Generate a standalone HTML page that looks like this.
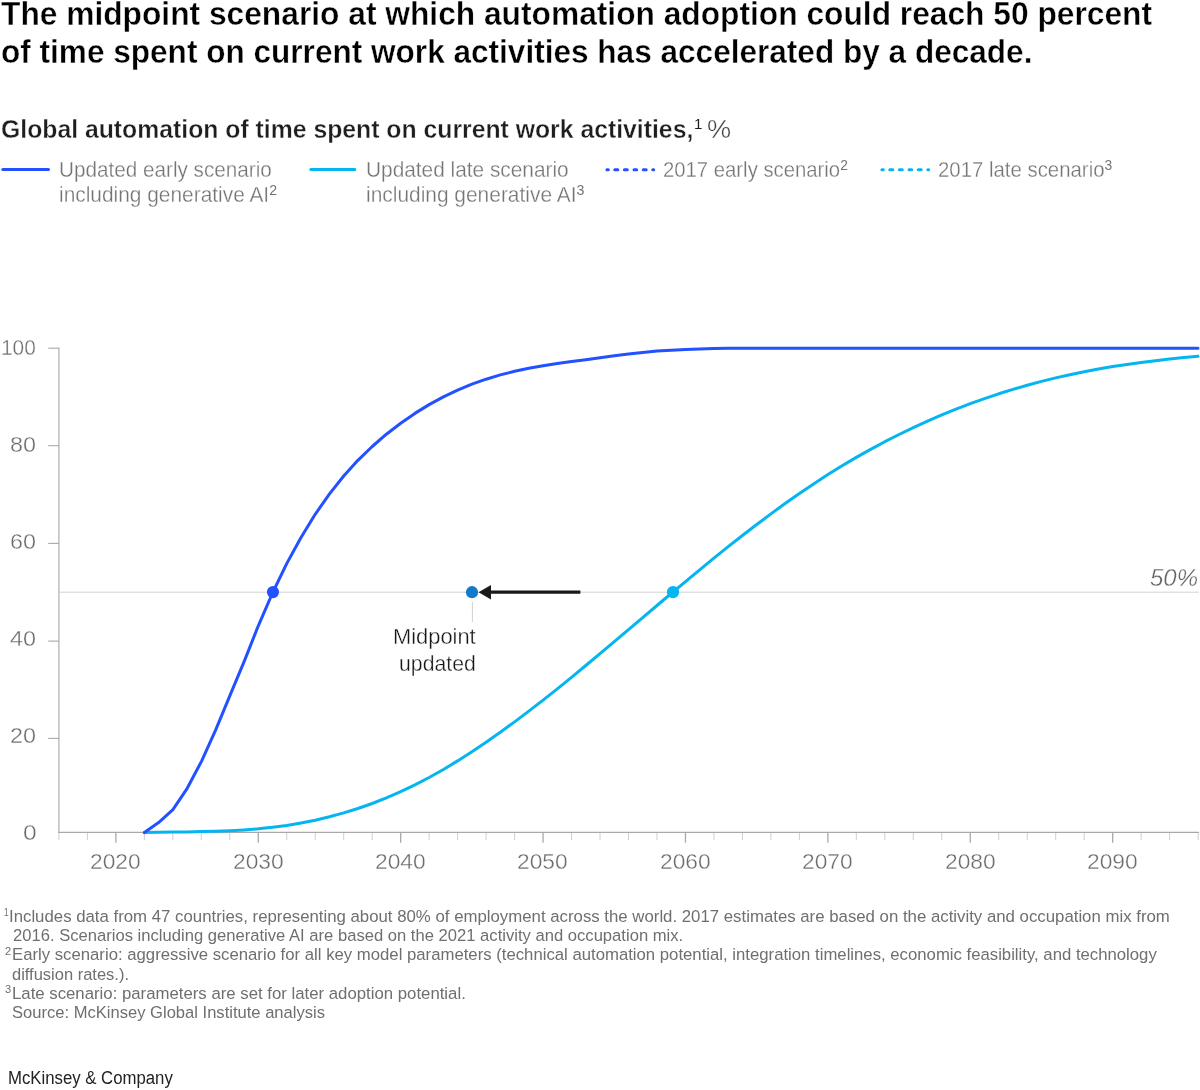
<!DOCTYPE html>
<html lang="en"><head><meta charset="utf-8"><title>Automation adoption midpoint scenario</title>
<style>
html,body{margin:0;padding:0;background:#fff}
body{width:1200px;height:1090px;position:relative;overflow:hidden;font-family:"Liberation Sans",sans-serif;color:#000}
.chart{position:absolute;left:0;top:0}
.t{position:absolute;white-space:nowrap;line-height:1;margin:0;padding:0;transform-origin:0 0;font-weight:normal}
.h1{font-weight:bold;color:#000;-webkit-text-stroke:0.4px #fff}
.h2,.h2s{font-weight:bold;color:#1e1e1e;-webkit-text-stroke:0.35px #fff}
.pc{color:#3c3c3c;-webkit-text-stroke:0.4px #fff}
.lg{color:#747474;-webkit-text-stroke:0.3px #fff}
.fn,.fs{color:#6f6f6f}
.ax{color:#6c6c6c;-webkit-text-stroke:0.35px #fff}
.fifty{color:#606060;font-style:italic;-webkit-text-stroke:0.35px #fff}
.mid{color:#161616;-webkit-text-stroke:0.35px #fff}
.brand{color:#222}
sup{font-size:68%;vertical-align:baseline;position:relative;top:-0.49em;line-height:0;-webkit-text-stroke:0 transparent}
.h2s sup{font-size:58%;top:-0.62em;font-weight:normal}
</style></head><body>
<svg class="chart" width="1200" height="1090" viewBox="0 0 1200 1090">
<g fill="none">
<line x1="59" y1="592.2" x2="1198.8" y2="592.2" stroke="#d3d3d3" stroke-width="1"/>
<line x1="58.9" y1="347.6" x2="58.9" y2="833" stroke="#b5b5b5" stroke-width="1.3"/>
<line x1="58.3" y1="832.4" x2="1199" y2="832.4" stroke="#a9a9a9" stroke-width="1.3"/>
<line x1="58.90" y1="833" x2="58.90" y2="840" stroke="#cfcfcf" stroke-width="1"/>
<line x1="87.38" y1="833" x2="87.38" y2="840" stroke="#cfcfcf" stroke-width="1"/>
<line x1="115.86" y1="833" x2="115.86" y2="842.8" stroke="#a9a9a9" stroke-width="1.3"/>
<line x1="144.34" y1="833" x2="144.34" y2="840" stroke="#cfcfcf" stroke-width="1"/>
<line x1="172.82" y1="833" x2="172.82" y2="840" stroke="#cfcfcf" stroke-width="1"/>
<line x1="201.30" y1="833" x2="201.30" y2="840" stroke="#cfcfcf" stroke-width="1"/>
<line x1="229.78" y1="833" x2="229.78" y2="840" stroke="#cfcfcf" stroke-width="1"/>
<line x1="258.26" y1="833" x2="258.26" y2="842.8" stroke="#a9a9a9" stroke-width="1.3"/>
<line x1="286.74" y1="833" x2="286.74" y2="840" stroke="#cfcfcf" stroke-width="1"/>
<line x1="315.22" y1="833" x2="315.22" y2="840" stroke="#cfcfcf" stroke-width="1"/>
<line x1="343.70" y1="833" x2="343.70" y2="840" stroke="#cfcfcf" stroke-width="1"/>
<line x1="372.18" y1="833" x2="372.18" y2="840" stroke="#cfcfcf" stroke-width="1"/>
<line x1="400.66" y1="833" x2="400.66" y2="842.8" stroke="#a9a9a9" stroke-width="1.3"/>
<line x1="429.14" y1="833" x2="429.14" y2="840" stroke="#cfcfcf" stroke-width="1"/>
<line x1="457.62" y1="833" x2="457.62" y2="840" stroke="#cfcfcf" stroke-width="1"/>
<line x1="486.10" y1="833" x2="486.10" y2="840" stroke="#cfcfcf" stroke-width="1"/>
<line x1="514.58" y1="833" x2="514.58" y2="840" stroke="#cfcfcf" stroke-width="1"/>
<line x1="543.06" y1="833" x2="543.06" y2="842.8" stroke="#a9a9a9" stroke-width="1.3"/>
<line x1="571.54" y1="833" x2="571.54" y2="840" stroke="#cfcfcf" stroke-width="1"/>
<line x1="600.02" y1="833" x2="600.02" y2="840" stroke="#cfcfcf" stroke-width="1"/>
<line x1="628.50" y1="833" x2="628.50" y2="840" stroke="#cfcfcf" stroke-width="1"/>
<line x1="656.98" y1="833" x2="656.98" y2="840" stroke="#cfcfcf" stroke-width="1"/>
<line x1="685.46" y1="833" x2="685.46" y2="842.8" stroke="#a9a9a9" stroke-width="1.3"/>
<line x1="713.94" y1="833" x2="713.94" y2="840" stroke="#cfcfcf" stroke-width="1"/>
<line x1="742.42" y1="833" x2="742.42" y2="840" stroke="#cfcfcf" stroke-width="1"/>
<line x1="770.90" y1="833" x2="770.90" y2="840" stroke="#cfcfcf" stroke-width="1"/>
<line x1="799.38" y1="833" x2="799.38" y2="840" stroke="#cfcfcf" stroke-width="1"/>
<line x1="827.86" y1="833" x2="827.86" y2="842.8" stroke="#a9a9a9" stroke-width="1.3"/>
<line x1="856.34" y1="833" x2="856.34" y2="840" stroke="#cfcfcf" stroke-width="1"/>
<line x1="884.82" y1="833" x2="884.82" y2="840" stroke="#cfcfcf" stroke-width="1"/>
<line x1="913.30" y1="833" x2="913.30" y2="840" stroke="#cfcfcf" stroke-width="1"/>
<line x1="941.78" y1="833" x2="941.78" y2="840" stroke="#cfcfcf" stroke-width="1"/>
<line x1="970.26" y1="833" x2="970.26" y2="842.8" stroke="#a9a9a9" stroke-width="1.3"/>
<line x1="998.74" y1="833" x2="998.74" y2="840" stroke="#cfcfcf" stroke-width="1"/>
<line x1="1027.22" y1="833" x2="1027.22" y2="840" stroke="#cfcfcf" stroke-width="1"/>
<line x1="1055.70" y1="833" x2="1055.70" y2="840" stroke="#cfcfcf" stroke-width="1"/>
<line x1="1084.18" y1="833" x2="1084.18" y2="840" stroke="#cfcfcf" stroke-width="1"/>
<line x1="1112.66" y1="833" x2="1112.66" y2="842.8" stroke="#a9a9a9" stroke-width="1.3"/>
<line x1="1141.14" y1="833" x2="1141.14" y2="840" stroke="#cfcfcf" stroke-width="1"/>
<line x1="1169.62" y1="833" x2="1169.62" y2="840" stroke="#cfcfcf" stroke-width="1"/>
<line x1="1198.10" y1="833" x2="1198.10" y2="840" stroke="#cfcfcf" stroke-width="1"/>
<line x1="48.2" y1="348.2" x2="59" y2="348.2" stroke="#a9a9a9" stroke-width="1.1"/>
<line x1="48.2" y1="445.7" x2="59" y2="445.7" stroke="#a9a9a9" stroke-width="1.1"/>
<line x1="48.2" y1="543.4" x2="59" y2="543.4" stroke="#a9a9a9" stroke-width="1.1"/>
<line x1="48.2" y1="641.1" x2="59" y2="641.1" stroke="#a9a9a9" stroke-width="1.1"/>
<line x1="48.2" y1="738.4" x2="59" y2="738.4" stroke="#a9a9a9" stroke-width="1.1"/>

<line x1="472.4" y1="602" x2="472.4" y2="622" stroke="#cfcfcf" stroke-width="1"/>
<path d="M144.4,832.6 L158.6,832.2 L172.8,832.1 L187.1,831.9 L201.3,831.6 L215.5,831.3 L229.8,830.7 L244.0,829.9 L258.3,828.8 L272.5,827.3 L286.7,825.4 L301.0,823.0 L315.2,820.2 L329.5,816.8 L343.7,812.9 L357.9,808.5 L372.2,803.5 L386.4,797.9 L400.7,791.7 L414.9,784.9 L429.1,777.5 L443.4,769.5 L457.6,760.9 L471.9,751.8 L486.1,742.2 L500.3,732.2 L514.6,721.9 L528.8,711.1 L543.1,700.1 L557.3,688.8 L571.5,677.3 L585.8,665.5 L600.0,653.7 L614.3,641.7 L628.5,629.6 L642.7,617.6 L657.0,605.5 L671.2,593.5 L685.5,581.6 L699.7,569.8 L713.9,558.1 L728.2,546.7 L742.4,535.5 L756.7,524.5 L770.9,513.9 L785.1,503.5 L799.4,493.5 L813.6,483.9 L827.9,474.6 L842.1,465.8 L856.3,457.4 L870.6,449.4 L884.8,441.7 L899.1,434.5 L913.3,427.6 L927.5,421.1 L941.8,414.9 L956.0,409.1 L970.3,403.7 L984.5,398.6 L998.7,393.8 L1013.0,389.4 L1027.2,385.2 L1041.5,381.4 L1055.7,377.9 L1069.9,374.7 L1084.2,371.7 L1098.4,369.0 L1112.7,366.6 L1126.9,364.4 L1141.1,362.5 L1155.4,360.7 L1169.6,359.1 L1183.9,357.6 L1198.0,356.3" stroke="#04b5f0" stroke-width="3" stroke-linecap="round" stroke-linejoin="round"/>
<path d="M144.4,832.6 L158.6,822.6 L172.9,809.7 L187.2,788.3 L201.6,761.1 L215.7,729.9 L230.0,695.4 L244.3,661.1 L258.3,625.8 L272.5,593.0 L286.7,563.6 L301.0,537.5 L315.2,514.3 L329.5,493.9 L343.7,476.0 L357.9,460.3 L372.2,446.5 L386.4,434.2 L400.7,423.2 L414.9,413.4 L429.1,404.6 L443.4,396.9 L457.6,390.1 L471.9,384.2 L486.1,379.2 L500.3,374.9 L514.6,371.3 L528.8,368.3 L543.1,365.8 L557.3,363.6 L571.5,361.6 L585.8,359.7 L600.0,357.7 L614.3,355.8 L628.5,354.0 L642.7,352.4 L657.0,351.1 L671.2,350.2 L685.5,349.4 L699.7,348.9 L713.9,348.5 L728.2,348.3 L742.4,348.3 L756.7,348.3 L770.9,348.3 L1198.0,348.3" stroke="#2251ff" stroke-width="3" stroke-linecap="round" stroke-linejoin="round"/>
<line x1="489" y1="592.2" x2="580.4" y2="592.2" stroke="#1a1a1a" stroke-width="3.2"/>
</g>
<polygon points="478.6,592.2 491,584.9 491,599.5" fill="#1a1a1a"/>
<circle cx="273" cy="592.1" r="6.1" fill="#2251ff"/>
<circle cx="673" cy="592.1" r="6.15" fill="#04b5f0"/>
<circle cx="472" cy="592.2" r="6.1" fill="#117bc8"/>
<g fill="none" stroke-width="3" stroke-linecap="round">
<line x1="2.8" y1="169.6" x2="48.5" y2="169.6" stroke="#2251ff"/>
<line x1="310.8" y1="169.6" x2="354.8" y2="169.6" stroke="#04b5f0"/>
<path d="M606.9,169.7H608.3 M614.8,169.7H617.8 M624.4,169.7H627.3 M634,169.7H636.7 M643.3,169.7H646.2 M652.8,169.7H653.7" stroke="#2251ff"/>
<path d="M881.9,169.7H883.3 M889.8,169.7H892.8 M899.4,169.7H902.3 M909,169.7H911.7 M918.3,169.7H921.2 M927.8,169.7H928.7" stroke="#04b5f0"/>
</g>
</svg>
<h1 class="t h1" style="left:0.79px;top:-3.98px;font-size:34.1px;transform:scaleX(0.9309);">The midpoint scenario at which automation adoption could reach 50 percent</h1>
<div class="t h1" style="left:0.89px;top:34.02px;font-size:34.1px;transform:scaleX(0.9262);">of time spent on current work activities has accelerated by a decade.</div>
<h2 class="t h2" style="left:1.13px;top:116.02px;font-size:26px;transform:scaleX(0.9527);">Global automation of time spent on current work activities,</h2>
<div class="t h2s" style="left:694.09px;top:116.02px;font-size:26px;transform:scaleX(1.0000);"><sup>1</sup></div>
<div class="t pc" style="left:706.95px;top:116.02px;font-size:26px;transform:scaleX(1.0434);">%</div>
<div class="t lg" style="left:58.98px;top:159.02px;font-size:22px;transform:scaleX(0.9407);">Updated early scenario</div>
<div class="t lg" style="left:58.97px;top:184.02px;font-size:22px;transform:scaleX(0.9493);">including generative AI<sup>2</sup></div>
<div class="t lg" style="left:365.87px;top:159.02px;font-size:22px;transform:scaleX(0.9468);">Updated late scenario</div>
<div class="t lg" style="left:365.87px;top:184.02px;font-size:22px;transform:scaleX(0.9506);">including generative AI<sup>3</sup></div>
<div class="t lg" style="left:663.19px;top:159.02px;font-size:22px;transform:scaleX(0.9225);">2017 early scenario<sup>2</sup></div>
<div class="t lg" style="left:938.29px;top:159.02px;font-size:22px;transform:scaleX(0.9261);">2017 late scenario<sup>3</sup></div>
<div class="t fn" style="left:9.11px;top:908.02px;font-size:17.2px;transform:scaleX(0.9767);">Includes data from 47 countries, representing about 80% of employment across the world. 2017 estimates are based on the activity and occupation mix from</div>
<div class="t fn" style="left:12.72px;top:927.02px;font-size:17.2px;transform:scaleX(0.9661);">2016. Scenarios including generative AI are based on the 2021 activity and occupation mix.</div>
<div class="t fn" style="left:11.61px;top:946.02px;font-size:17.2px;transform:scaleX(0.9729);">Early scenario: aggressive scenario for all key model parameters (technical automation potential, integration timelines, economic feasibility, and technology</div>
<div class="t fn" style="left:12.42px;top:966.02px;font-size:17.2px;transform:scaleX(0.9592);">diffusion rates.).</div>
<div class="t fn" style="left:11.61px;top:985.02px;font-size:17.2px;transform:scaleX(0.9753);">Late scenario: parameters are set for later adoption potential.</div>
<div class="t fn" style="left:12.42px;top:1004.02px;font-size:17.2px;transform:scaleX(0.9636);">Source: McKinsey Global Institute analysis</div>
<div class="t fs" style="left:4.10px;top:907.02px;font-size:11px;transform:scaleX(0.7685);">1</div>
<div class="t fs" style="left:4.71px;top:946.02px;font-size:11px;transform:scaleX(1.0064);">2</div>
<div class="t fs" style="left:4.71px;top:984.02px;font-size:11px;transform:scaleX(1.0064);">3</div>
<div class="t brand" style="left:8.11px;top:1069.02px;font-size:18px;transform:scaleX(0.9307);">McKinsey &amp; Company</div>
<div class="t ax" style="left:90.11px;top:851.02px;font-size:22.6px;transform:scaleX(1.0080);">2020</div>
<div class="t ax" style="left:232.51px;top:851.02px;font-size:22.6px;transform:scaleX(1.0080);">2030</div>
<div class="t ax" style="left:374.91px;top:851.02px;font-size:22.6px;transform:scaleX(1.0080);">2040</div>
<div class="t ax" style="left:517.31px;top:851.02px;font-size:22.6px;transform:scaleX(1.0080);">2050</div>
<div class="t ax" style="left:659.71px;top:851.02px;font-size:22.6px;transform:scaleX(1.0080);">2060</div>
<div class="t ax" style="left:802.11px;top:851.02px;font-size:22.6px;transform:scaleX(1.0080);">2070</div>
<div class="t ax" style="left:944.51px;top:851.02px;font-size:22.6px;transform:scaleX(1.0080);">2080</div>
<div class="t ax" style="left:1086.91px;top:851.02px;font-size:22.6px;transform:scaleX(1.0080);">2090</div>
<div class="t ax" style="left:1.37px;top:337.02px;font-size:22.6px;transform:scaleX(0.9217);">100</div>
<div class="t ax" style="left:10.18px;top:434.02px;font-size:22.6px;transform:scaleX(1.0343);">80</div>
<div class="t ax" style="left:10.18px;top:531.02px;font-size:22.6px;transform:scaleX(1.0343);">60</div>
<div class="t ax" style="left:10.18px;top:628.02px;font-size:22.6px;transform:scaleX(1.0343);">40</div>
<div class="t ax" style="left:10.18px;top:725.02px;font-size:22.6px;transform:scaleX(1.0343);">20</div>
<div class="t ax" style="left:22.54px;top:822.02px;font-size:22.6px;transform:scaleX(1.0871);">0</div>
<div class="t fifty" style="left:1150.16px;top:566.02px;font-size:24px;transform:scaleX(0.9999);">50%</div>
<div class="t mid" style="left:393.03px;top:626.02px;font-size:22.4px;transform:scaleX(0.9772);">Midpoint</div>
<div class="t mid" style="left:398.76px;top:653.02px;font-size:22.4px;transform:scaleX(0.9486);">updated</div>
</body></html>
